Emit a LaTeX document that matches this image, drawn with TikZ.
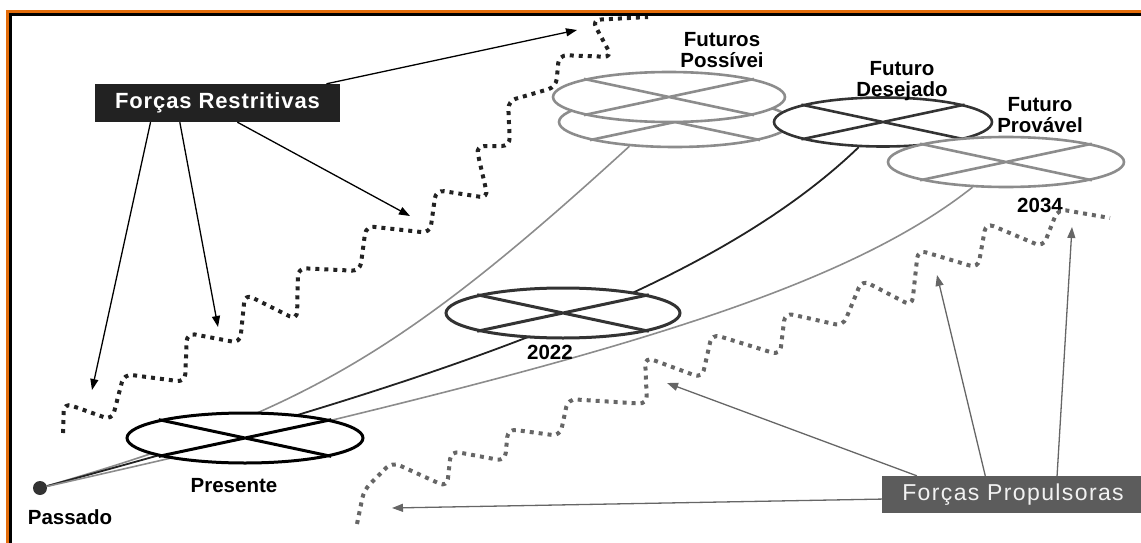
\documentclass[tikz,border=0pt]{standalone}
\usepackage{fontspec}
\setmainfont{Liberation Sans}
\usetikzlibrary{arrows.meta, positioning, shapes.geometric, calc}

\definecolor{frameorange}{HTML}{E36C0A}
\definecolor{possgray}{HTML}{8C8C8C}
\definecolor{darkline}{HTML}{333333}
\definecolor{boxdark}{HTML}{222222}
\definecolor{boxgray}{HTML}{5C5C5C}
\definecolor{dotgray}{HTML}{666666}

\pgfdeclarelayer{bg}
\pgfsetlayers{bg,main}

% cross inside an ellipse node
\newcommand{\xcross}[2]{\draw[#2] (#1.168) -- (#1.-12) (#1.12) -- (#1.-168);}

\begin{document}
\begin{tikzpicture}[
    x=1pt, y=-1pt,
    ell/.style={
        ellipse,
        draw,
        fill=white,
        inner sep=0pt
    },
    lab/.style={
        font=\fontsize{20.5}{20.5}\selectfont\bfseries,
        align=center,
        inner sep=0pt
    },
    wave/.style={
        line width=4pt,
        dash pattern=on 4pt off 5pt,
        rounded corners=8pt
    },
    rarrow/.style={
        line width=1.3pt,
        -{Triangle[length=11pt,width=8pt]}
    },
    parrow/.style={
        line width=1.3pt,
        dotgray,
        -{Triangle[length=11pt,width=8pt]}
    }
]
\useasboundingbox (0,0) rectangle (1141,543);

% Force boxes
\node[fill=boxdark, text=white, minimum width=245pt, minimum height=38pt, inner sep=0pt,
      font=\fontsize{22}{22}\selectfont\bfseries\addfontfeatures{LetterSpace=4}]
      (FR) at (217.5,103) {Forças Restritivas};
\node[fill=boxgray, text=white!95!black, minimum width=262pt, minimum height=37pt, inner sep=0pt,
      font=\fontsize{23}{23}\selectfont\addfontfeatures{LetterSpace=6}]
      (PF) at (1013,494.5) {Forças Propulsoras};

% Past
\node[circle, fill=darkline, minimum size=14pt, inner sep=0pt] (past) at (40,488) {};
\node[lab] (pastlab) at (70,517) {Passado};

% Time ellipses
\node[ell, draw=black, line width=3pt, minimum width=236pt, minimum height=50pt] (pres) at (245,438) {};
\xcross{pres}{line width=3pt}
\node[lab] (preslab) at (234,486) {Presente};

\node[ell, draw=darkline, line width=3pt, minimum width=234pt, minimum height=50pt] (y22) at (563,313) {};
\xcross{y22}{darkline, line width=3pt}
\node[lab] (y22lab) at (550,352) {2022};

\node[ell, draw=possgray, line width=2.6pt, minimum width=232pt, minimum height=50pt] (possB) at (675,122) {};
\xcross{possB}{possgray, line width=2.6pt}
\node[ell, draw=possgray, line width=2.6pt, minimum width=232pt, minimum height=50pt] (possA) at (669,97) {};
\xcross{possA}{possgray, line width=2.6pt}
\node[lab] (posslab) at (722,50) {Futuros\\Possívei};

\node[ell, draw=darkline, line width=2.6pt, minimum width=218pt, minimum height=49pt] (des) at (883,122) {};
\xcross{des}{darkline, line width=2.6pt}
\node[lab] (deslab) at (902,81) {Futuro\\Desejado};

\node[ell, draw=possgray, line width=2.6pt, minimum width=236pt, minimum height=50pt] (prov) at (1006,162) {};
\xcross{prov}{possgray, line width=2.6pt}
\node[lab] (provlab) at (1040,115) {Futuro\\Provável};
\node[lab] (y34lab) at (1040,205) {2034};

% Paths from the past
\begin{pgfonlayer}{bg}
\draw[possgray, line width=1.6pt] (past) .. controls (302,412) and (401,355) .. (possB.208);
\draw[boxdark, line width=1.8pt] (past) .. controls (400,390) and (700,300) .. (des.226);
\draw[possgray, line width=1.6pt] (past) .. controls (560,370) and (830,300) .. (prov.217);
\end{pgfonlayer}

% Restraining wave
\draw[wave, boxdark] (63,433) -- (64,403) -- (112,420) -- (124,374) -- (185,382) -- (187,333)
    -- (240,343) -- (245,294) -- (297,320) -- (298,268) -- (360,271) -- (366,226)
    -- (430,233) -- (436,190) -- (488,198) -- (476,146) -- (510,146) -- (508,101)
    -- (556,87) -- (559,55) -- (612,57) -- (592,20) -- (648,17);

% Driving wave
\draw[wave, dotgray] (357,524) -- (364,490) -- (392,462) -- (447,487) -- (451,451)
    -- (505,461) -- (508,429) -- (560,436) -- (568,399) -- (647,404) -- (645,357)
    -- (702,378) -- (712,334) -- (780,355) -- (785,313) -- (843,326) -- (862,280)
    -- (912,306) -- (918,250) -- (978,268) -- (986,223) -- (1043,247) -- (1058,209)
    -- (1110,218);

% Arrow ends
\coordinate (r1) at (577,30);
\coordinate (r2) at (410,216);
\coordinate (r3) at (218,327);
\coordinate (r4) at (92,390);
\coordinate (p1) at (392,508);
\coordinate (p2) at (667,383);
\coordinate (p3) at (937,275);
\coordinate (p4) at (1072,227);

\draw[rarrow] (FR.10) -- (r1);
\draw[rarrow] (FR.-44) -- (r2);
\draw[rarrow] (FR.-153) -- (r3);
\draw[rarrow] (FR.-164) -- (r4);

\draw[parrow] (PF.182) -- (p1);
\draw[parrow] (PF.169) -- (p2);
\draw[parrow] (PF.146) -- (p3);
\draw[parrow] (PF.23) -- (p4);

% Frame
\draw[frameorange, line width=3.4pt] (7.5,543) -- (7.5,11.5) -- (1141,11.5);
\draw[black, line width=3pt] (10.5,543) -- (10.5,14.5) -- (1141,14.5);

\end{tikzpicture}
\end{document}
